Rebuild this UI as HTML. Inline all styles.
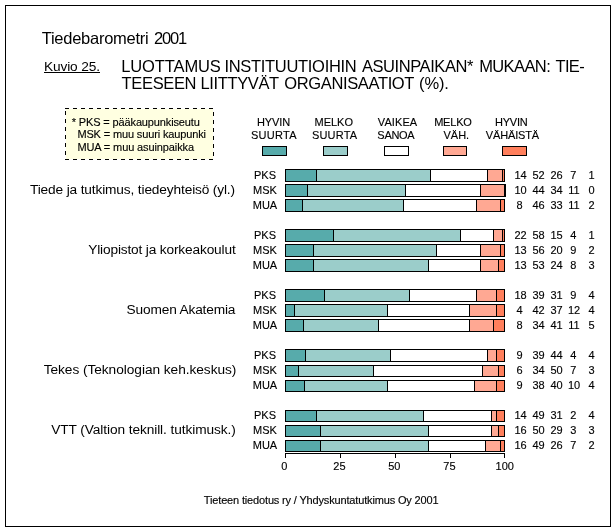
<!DOCTYPE html>
<html lang="fi">
<head>
<meta charset="utf-8">
<title>Tiedebarometri 2001 - Kuvio 25</title>
<style>
html,body{margin:0;padding:0;background:#fff;}
body{width:616px;height:531px;overflow:hidden;font-family:"Liberation Sans",sans-serif;}
svg{display:block;}
text{font-family:"Liberation Sans",sans-serif;white-space:pre;}
</style>
</head>
<body>
<svg width="616" height="531" viewBox="0 0 616 531" font-family="'Liberation Sans', sans-serif" fill="#000">
<rect x="0" y="0" width="616" height="531" fill="#fff"/>
<g shape-rendering="crispEdges">
<path d="M5 5h606v522h-606zM6 6v520h604v-520z" fill-rule="evenodd"/>
<rect x="44" y="72" width="56" height="1"/>
<rect x="66" y="109" width="147" height="50" fill="#ffffe1"/>
<path d="M65 108h1v1h-1zM66 108h1v1h-1zM67 108h1v1h-1zM68 108h1v1h-1zM73 108h1v1h-1zM74 108h1v1h-1zM75 108h1v1h-1zM76 108h1v1h-1zM81 108h1v1h-1zM82 108h1v1h-1zM83 108h1v1h-1zM84 108h1v1h-1zM89 108h1v1h-1zM90 108h1v1h-1zM91 108h1v1h-1zM92 108h1v1h-1zM97 108h1v1h-1zM98 108h1v1h-1zM99 108h1v1h-1zM100 108h1v1h-1zM105 108h1v1h-1zM106 108h1v1h-1zM107 108h1v1h-1zM108 108h1v1h-1zM113 108h1v1h-1zM114 108h1v1h-1zM115 108h1v1h-1zM116 108h1v1h-1zM121 108h1v1h-1zM122 108h1v1h-1zM123 108h1v1h-1zM124 108h1v1h-1zM129 108h1v1h-1zM130 108h1v1h-1zM131 108h1v1h-1zM132 108h1v1h-1zM137 108h1v1h-1zM138 108h1v1h-1zM139 108h1v1h-1zM140 108h1v1h-1zM145 108h1v1h-1zM146 108h1v1h-1zM147 108h1v1h-1zM148 108h1v1h-1zM153 108h1v1h-1zM154 108h1v1h-1zM155 108h1v1h-1zM156 108h1v1h-1zM161 108h1v1h-1zM162 108h1v1h-1zM163 108h1v1h-1zM164 108h1v1h-1zM169 108h1v1h-1zM170 108h1v1h-1zM171 108h1v1h-1zM172 108h1v1h-1zM177 108h1v1h-1zM178 108h1v1h-1zM179 108h1v1h-1zM180 108h1v1h-1zM185 108h1v1h-1zM186 108h1v1h-1zM187 108h1v1h-1zM188 108h1v1h-1zM193 108h1v1h-1zM194 108h1v1h-1zM195 108h1v1h-1zM196 108h1v1h-1zM201 108h1v1h-1zM202 108h1v1h-1zM203 108h1v1h-1zM204 108h1v1h-1zM209 108h1v1h-1zM210 108h1v1h-1zM211 108h1v1h-1zM212 108h1v1h-1zM213 112h1v1h-1zM213 113h1v1h-1zM213 114h1v1h-1zM213 115h1v1h-1zM213 120h1v1h-1zM213 121h1v1h-1zM213 122h1v1h-1zM213 123h1v1h-1zM213 128h1v1h-1zM213 129h1v1h-1zM213 130h1v1h-1zM213 131h1v1h-1zM213 136h1v1h-1zM213 137h1v1h-1zM213 138h1v1h-1zM213 139h1v1h-1zM213 144h1v1h-1zM213 145h1v1h-1zM213 146h1v1h-1zM213 147h1v1h-1zM213 152h1v1h-1zM213 153h1v1h-1zM213 154h1v1h-1zM213 155h1v1h-1zM212 159h1v1h-1zM211 159h1v1h-1zM210 159h1v1h-1zM209 159h1v1h-1zM204 159h1v1h-1zM203 159h1v1h-1zM202 159h1v1h-1zM201 159h1v1h-1zM196 159h1v1h-1zM195 159h1v1h-1zM194 159h1v1h-1zM193 159h1v1h-1zM188 159h1v1h-1zM187 159h1v1h-1zM186 159h1v1h-1zM185 159h1v1h-1zM180 159h1v1h-1zM179 159h1v1h-1zM178 159h1v1h-1zM177 159h1v1h-1zM172 159h1v1h-1zM171 159h1v1h-1zM170 159h1v1h-1zM169 159h1v1h-1zM164 159h1v1h-1zM163 159h1v1h-1zM162 159h1v1h-1zM161 159h1v1h-1zM156 159h1v1h-1zM155 159h1v1h-1zM154 159h1v1h-1zM153 159h1v1h-1zM148 159h1v1h-1zM147 159h1v1h-1zM146 159h1v1h-1zM145 159h1v1h-1zM140 159h1v1h-1zM139 159h1v1h-1zM138 159h1v1h-1zM137 159h1v1h-1zM132 159h1v1h-1zM131 159h1v1h-1zM130 159h1v1h-1zM129 159h1v1h-1zM124 159h1v1h-1zM123 159h1v1h-1zM122 159h1v1h-1zM121 159h1v1h-1zM116 159h1v1h-1zM115 159h1v1h-1zM114 159h1v1h-1zM113 159h1v1h-1zM108 159h1v1h-1zM107 159h1v1h-1zM106 159h1v1h-1zM105 159h1v1h-1zM100 159h1v1h-1zM99 159h1v1h-1zM98 159h1v1h-1zM97 159h1v1h-1zM92 159h1v1h-1zM91 159h1v1h-1zM90 159h1v1h-1zM89 159h1v1h-1zM84 159h1v1h-1zM83 159h1v1h-1zM82 159h1v1h-1zM81 159h1v1h-1zM76 159h1v1h-1zM75 159h1v1h-1zM74 159h1v1h-1zM73 159h1v1h-1zM68 159h1v1h-1zM67 159h1v1h-1zM66 159h1v1h-1zM65 159h1v1h-1zM65 154h1v1h-1zM65 153h1v1h-1zM65 152h1v1h-1zM65 151h1v1h-1zM65 146h1v1h-1zM65 145h1v1h-1zM65 144h1v1h-1zM65 143h1v1h-1zM65 138h1v1h-1zM65 137h1v1h-1zM65 136h1v1h-1zM65 135h1v1h-1zM65 130h1v1h-1zM65 129h1v1h-1zM65 128h1v1h-1zM65 127h1v1h-1zM65 122h1v1h-1zM65 121h1v1h-1zM65 120h1v1h-1zM65 119h1v1h-1zM65 114h1v1h-1zM65 113h1v1h-1zM65 112h1v1h-1zM65 111h1v1h-1z"/>
<rect x="262" y="146" width="25" height="10"/><rect x="263" y="147" width="23" height="8" fill="#57abab"/>
<rect x="323" y="146" width="25" height="10"/><rect x="324" y="147" width="23" height="8" fill="#9bcdca"/>
<rect x="384" y="146" width="25" height="10"/><rect x="385" y="147" width="23" height="8" fill="#ffffff"/>
<rect x="443" y="146" width="24" height="10"/><rect x="444" y="147" width="22" height="8" fill="#ffa893"/>
<rect x="502" y="146" width="25" height="10"/><rect x="503" y="147" width="23" height="8" fill="#ff7f5c"/>
<rect x="285" y="169" width="220" height="13"/>
<rect x="286" y="170" width="30" height="11" fill="#57abab"/>
<rect x="317" y="170" width="113" height="11" fill="#9bcdca"/>
<rect x="431" y="170" width="56" height="11" fill="#ffffff"/>
<rect x="488" y="170" width="14" height="11" fill="#ffa893"/>
<rect x="503" y="170" width="1" height="11" fill="#ff7f5c"/>
<rect x="285" y="184" width="221" height="13"/>
<rect x="286" y="185" width="21" height="11" fill="#57abab"/>
<rect x="308" y="185" width="97" height="11" fill="#9bcdca"/>
<rect x="406" y="185" width="74" height="11" fill="#ffffff"/>
<rect x="481" y="185" width="23" height="11" fill="#ffa893"/>
<rect x="285" y="199" width="220" height="13"/>
<rect x="286" y="200" width="16" height="11" fill="#57abab"/>
<rect x="303" y="200" width="100" height="11" fill="#9bcdca"/>
<rect x="404" y="200" width="72" height="11" fill="#ffffff"/>
<rect x="477" y="200" width="23" height="11" fill="#ffa893"/>
<rect x="501" y="200" width="3" height="11" fill="#ff7f5c"/>
<rect x="285" y="229" width="220" height="13"/>
<rect x="286" y="230" width="47" height="11" fill="#57abab"/>
<rect x="334" y="230" width="126" height="11" fill="#9bcdca"/>
<rect x="461" y="230" width="32" height="11" fill="#ffffff"/>
<rect x="494" y="230" width="8" height="11" fill="#ffa893"/>
<rect x="503" y="230" width="1" height="11" fill="#ff7f5c"/>
<rect x="285" y="244" width="220" height="13"/>
<rect x="286" y="245" width="27" height="11" fill="#57abab"/>
<rect x="314" y="245" width="122" height="11" fill="#9bcdca"/>
<rect x="437" y="245" width="43" height="11" fill="#ffffff"/>
<rect x="481" y="245" width="19" height="11" fill="#ffa893"/>
<rect x="501" y="245" width="3" height="11" fill="#ff7f5c"/>
<rect x="285" y="259" width="220" height="13"/>
<rect x="286" y="260" width="27" height="11" fill="#57abab"/>
<rect x="314" y="260" width="114" height="11" fill="#9bcdca"/>
<rect x="429" y="260" width="51" height="11" fill="#ffffff"/>
<rect x="481" y="260" width="17" height="11" fill="#ffa893"/>
<rect x="499" y="260" width="5" height="11" fill="#ff7f5c"/>
<rect x="285" y="289" width="220" height="13"/>
<rect x="286" y="290" width="38" height="11" fill="#57abab"/>
<rect x="325" y="290" width="84" height="11" fill="#9bcdca"/>
<rect x="410" y="290" width="66" height="11" fill="#ffffff"/>
<rect x="477" y="290" width="19" height="11" fill="#ffa893"/>
<rect x="497" y="290" width="7" height="11" fill="#ff7f5c"/>
<rect x="285" y="304" width="220" height="13"/>
<rect x="286" y="305" width="8" height="11" fill="#57abab"/>
<rect x="295" y="305" width="92" height="11" fill="#9bcdca"/>
<rect x="388" y="305" width="81" height="11" fill="#ffffff"/>
<rect x="470" y="305" width="26" height="11" fill="#ffa893"/>
<rect x="497" y="305" width="7" height="11" fill="#ff7f5c"/>
<rect x="285" y="319" width="220" height="13"/>
<rect x="286" y="320" width="17" height="11" fill="#57abab"/>
<rect x="304" y="320" width="74" height="11" fill="#9bcdca"/>
<rect x="379" y="320" width="90" height="11" fill="#ffffff"/>
<rect x="470" y="320" width="23" height="11" fill="#ffa893"/>
<rect x="494" y="320" width="10" height="11" fill="#ff7f5c"/>
<rect x="285" y="349" width="220" height="13"/>
<rect x="286" y="350" width="19" height="11" fill="#57abab"/>
<rect x="306" y="350" width="84" height="11" fill="#9bcdca"/>
<rect x="391" y="350" width="96" height="11" fill="#ffffff"/>
<rect x="488" y="350" width="8" height="11" fill="#ffa893"/>
<rect x="497" y="350" width="7" height="11" fill="#ff7f5c"/>
<rect x="285" y="365" width="220" height="12"/>
<rect x="286" y="366" width="12" height="10" fill="#57abab"/>
<rect x="299" y="366" width="74" height="10" fill="#9bcdca"/>
<rect x="374" y="366" width="108" height="10" fill="#ffffff"/>
<rect x="483" y="366" width="15" height="10" fill="#ffa893"/>
<rect x="499" y="366" width="5" height="10" fill="#ff7f5c"/>
<rect x="285" y="380" width="220" height="12"/>
<rect x="286" y="381" width="18" height="10" fill="#57abab"/>
<rect x="305" y="381" width="82" height="10" fill="#9bcdca"/>
<rect x="388" y="381" width="86" height="10" fill="#ffffff"/>
<rect x="475" y="381" width="21" height="10" fill="#ffa893"/>
<rect x="497" y="381" width="7" height="10" fill="#ff7f5c"/>
<rect x="285" y="410" width="220" height="12"/>
<rect x="286" y="411" width="30" height="10" fill="#57abab"/>
<rect x="317" y="411" width="106" height="10" fill="#9bcdca"/>
<rect x="424" y="411" width="67" height="10" fill="#ffffff"/>
<rect x="492" y="411" width="4" height="10" fill="#ffa893"/>
<rect x="497" y="411" width="7" height="10" fill="#ff7f5c"/>
<rect x="285" y="425" width="220" height="12"/>
<rect x="286" y="426" width="34" height="10" fill="#57abab"/>
<rect x="321" y="426" width="107" height="10" fill="#9bcdca"/>
<rect x="429" y="426" width="62" height="10" fill="#ffffff"/>
<rect x="492" y="426" width="6" height="10" fill="#ffa893"/>
<rect x="499" y="426" width="5" height="10" fill="#ff7f5c"/>
<rect x="285" y="440" width="220" height="12"/>
<rect x="286" y="441" width="34" height="10" fill="#57abab"/>
<rect x="321" y="441" width="107" height="10" fill="#9bcdca"/>
<rect x="429" y="441" width="56" height="10" fill="#ffffff"/>
<rect x="486" y="441" width="14" height="10" fill="#ffa893"/>
<rect x="501" y="441" width="3" height="10" fill="#ff7f5c"/>
<rect x="285" y="453" width="220" height="1"/>
<rect x="285" y="454" width="1" height="4"/>
<rect x="340" y="454" width="1" height="4"/>
<rect x="395" y="454" width="1" height="4"/>
<rect x="450" y="454" width="1" height="4"/>
<rect x="504" y="454" width="1" height="4"/>
</g>
<g id="txt" style="will-change:transform">
<text x="41.68" y="44" font-size="16.5" textLength="107.04" lengthAdjust="spacing">Tiedebarometri</text>
<text x="153.93" y="44" font-size="16.5" textLength="33.22" lengthAdjust="spacing">2001</text>
<text x="44.00" y="70.5" font-size="13.7" textLength="56.08" lengthAdjust="spacing">Kuvio 25.</text>
<text x="121.25" y="72" font-size="16.5" textLength="99.61" lengthAdjust="spacing">LUOTTAMUS</text>
<text x="224.47" y="72" font-size="16.5" textLength="132.25" lengthAdjust="spacing">INSTITUUTIOIHIN</text>
<text x="361.91" y="72" font-size="16.5" textLength="111.52" lengthAdjust="spacing">ASUINPAIKAN*</text>
<text x="479.13" y="72" font-size="16.5" textLength="71.61" lengthAdjust="spacing">MUKAAN:</text>
<text x="555.61" y="72" font-size="16.5" textLength="29.03" lengthAdjust="spacing">TIE-</text>
<text x="121.61" y="89" font-size="16.5" textLength="74.93" lengthAdjust="spacing">TEESEEN</text>
<text x="200.50" y="89" font-size="16.5" textLength="78.68" lengthAdjust="spacing">LIITTYVÄT</text>
<text x="284.19" y="89" font-size="16.5" textLength="130.26" lengthAdjust="spacing">ORGANISAATIOT</text>
<text x="419.04" y="89" font-size="16.5" textLength="29.87" lengthAdjust="spacing">(%).</text>
<text stroke="#000" stroke-width="0.14" x="71.77" y="125.8" font-size="11" textLength="128.08" lengthAdjust="spacing">* PKS = pääkaupunkiseutu</text>
<text stroke="#000" stroke-width="0.14" x="77.39" y="138" font-size="11" textLength="128.56" lengthAdjust="spacing">MSK = muu suuri kaupunki</text>
<text stroke="#000" stroke-width="0.14" x="77.39" y="151" font-size="11" textLength="116.69" lengthAdjust="spacing">MUA = muu asuinpaikka</text>
<text stroke="#000" stroke-width="0.14" x="256.99" y="126" font-size="11" textLength="33.25" lengthAdjust="spacing">HYVIN</text>
<text stroke="#000" stroke-width="0.14" x="250.88" y="139" font-size="11" textLength="45.65" lengthAdjust="spacing">SUURTA</text>
<text stroke="#000" stroke-width="0.14" x="314.60" y="126" font-size="11" textLength="38.37" lengthAdjust="spacing">MELKO</text>
<text stroke="#000" stroke-width="0.14" x="311.88" y="139" font-size="11" textLength="45.25" lengthAdjust="spacing">SUURTA</text>
<text stroke="#000" stroke-width="0.14" x="377.85" y="126" font-size="11" textLength="39.29" lengthAdjust="spacing">VAIKEA</text>
<text stroke="#000" stroke-width="0.14" x="377.36" y="139" font-size="11" textLength="37.32" lengthAdjust="spacing">SANOA</text>
<text stroke="#000" stroke-width="0.14" x="434.13" y="126" font-size="11" textLength="37.73" lengthAdjust="spacing">MELKO</text>
<text stroke="#000" stroke-width="0.14" x="443.51" y="139" font-size="11" textLength="25.67" lengthAdjust="spacing">VÄH.</text>
<text stroke="#000" stroke-width="0.14" x="494.98" y="126" font-size="11" textLength="32.83" lengthAdjust="spacing">HYVIN</text>
<text stroke="#000" stroke-width="0.14" x="485.85" y="139" font-size="11" textLength="53.24" lengthAdjust="spacing">VÄHÄISTÄ</text>
<text stroke="#000" stroke-width="0.14" x="265" y="179" font-size="11" text-anchor="middle">PKS</text>
<text stroke="#000" stroke-width="0.14" x="520.5" y="179" font-size="11" text-anchor="middle">14</text>
<text stroke="#000" stroke-width="0.14" x="538.5" y="179" font-size="11" text-anchor="middle">52</text>
<text stroke="#000" stroke-width="0.14" x="556.5" y="179" font-size="11" text-anchor="middle">26</text>
<text stroke="#000" stroke-width="0.14" x="573.3" y="179" font-size="11" text-anchor="middle">7</text>
<text stroke="#000" stroke-width="0.14" x="591.5" y="179" font-size="11" text-anchor="middle">1</text>
<text stroke="#000" stroke-width="0.14" x="265" y="194" font-size="11" text-anchor="middle">MSK</text>
<text stroke="#000" stroke-width="0.14" x="520.5" y="194" font-size="11" text-anchor="middle">10</text>
<text stroke="#000" stroke-width="0.14" x="538.5" y="194" font-size="11" text-anchor="middle">44</text>
<text stroke="#000" stroke-width="0.14" x="556.5" y="194" font-size="11" text-anchor="middle">34</text>
<text stroke="#000" stroke-width="0.14" x="574" y="194" font-size="11" text-anchor="middle">11</text>
<text stroke="#000" stroke-width="0.14" x="591.5" y="194" font-size="11" text-anchor="middle">0</text>
<text stroke="#000" stroke-width="0.14" x="265" y="209" font-size="11" text-anchor="middle">MUA</text>
<text stroke="#000" stroke-width="0.14" x="519.5" y="209" font-size="11" text-anchor="middle">8</text>
<text stroke="#000" stroke-width="0.14" x="538.5" y="209" font-size="11" text-anchor="middle">46</text>
<text stroke="#000" stroke-width="0.14" x="556.5" y="209" font-size="11" text-anchor="middle">33</text>
<text stroke="#000" stroke-width="0.14" x="574" y="209" font-size="11" text-anchor="middle">11</text>
<text stroke="#000" stroke-width="0.14" x="591.5" y="209" font-size="11" text-anchor="middle">2</text>
<text stroke="#000" stroke-width="0.14" x="265" y="239" font-size="11" text-anchor="middle">PKS</text>
<text stroke="#000" stroke-width="0.14" x="520.5" y="239" font-size="11" text-anchor="middle">22</text>
<text stroke="#000" stroke-width="0.14" x="538.5" y="239" font-size="11" text-anchor="middle">58</text>
<text stroke="#000" stroke-width="0.14" x="556.5" y="239" font-size="11" text-anchor="middle">15</text>
<text stroke="#000" stroke-width="0.14" x="573.3" y="239" font-size="11" text-anchor="middle">4</text>
<text stroke="#000" stroke-width="0.14" x="591.5" y="239" font-size="11" text-anchor="middle">1</text>
<text stroke="#000" stroke-width="0.14" x="265" y="254" font-size="11" text-anchor="middle">MSK</text>
<text stroke="#000" stroke-width="0.14" x="520.5" y="254" font-size="11" text-anchor="middle">13</text>
<text stroke="#000" stroke-width="0.14" x="538.5" y="254" font-size="11" text-anchor="middle">56</text>
<text stroke="#000" stroke-width="0.14" x="556.5" y="254" font-size="11" text-anchor="middle">20</text>
<text stroke="#000" stroke-width="0.14" x="573.3" y="254" font-size="11" text-anchor="middle">9</text>
<text stroke="#000" stroke-width="0.14" x="591.5" y="254" font-size="11" text-anchor="middle">2</text>
<text stroke="#000" stroke-width="0.14" x="265" y="269" font-size="11" text-anchor="middle">MUA</text>
<text stroke="#000" stroke-width="0.14" x="520.5" y="269" font-size="11" text-anchor="middle">13</text>
<text stroke="#000" stroke-width="0.14" x="538.5" y="269" font-size="11" text-anchor="middle">53</text>
<text stroke="#000" stroke-width="0.14" x="556.5" y="269" font-size="11" text-anchor="middle">24</text>
<text stroke="#000" stroke-width="0.14" x="573.3" y="269" font-size="11" text-anchor="middle">8</text>
<text stroke="#000" stroke-width="0.14" x="591.5" y="269" font-size="11" text-anchor="middle">3</text>
<text stroke="#000" stroke-width="0.14" x="265" y="299" font-size="11" text-anchor="middle">PKS</text>
<text stroke="#000" stroke-width="0.14" x="520.5" y="299" font-size="11" text-anchor="middle">18</text>
<text stroke="#000" stroke-width="0.14" x="538.5" y="299" font-size="11" text-anchor="middle">39</text>
<text stroke="#000" stroke-width="0.14" x="556.5" y="299" font-size="11" text-anchor="middle">31</text>
<text stroke="#000" stroke-width="0.14" x="573.3" y="299" font-size="11" text-anchor="middle">9</text>
<text stroke="#000" stroke-width="0.14" x="591.5" y="299" font-size="11" text-anchor="middle">4</text>
<text stroke="#000" stroke-width="0.14" x="265" y="314" font-size="11" text-anchor="middle">MSK</text>
<text stroke="#000" stroke-width="0.14" x="519.5" y="314" font-size="11" text-anchor="middle">4</text>
<text stroke="#000" stroke-width="0.14" x="538.5" y="314" font-size="11" text-anchor="middle">42</text>
<text stroke="#000" stroke-width="0.14" x="556.5" y="314" font-size="11" text-anchor="middle">37</text>
<text stroke="#000" stroke-width="0.14" x="574" y="314" font-size="11" text-anchor="middle">12</text>
<text stroke="#000" stroke-width="0.14" x="591.5" y="314" font-size="11" text-anchor="middle">4</text>
<text stroke="#000" stroke-width="0.14" x="265" y="329" font-size="11" text-anchor="middle">MUA</text>
<text stroke="#000" stroke-width="0.14" x="519.5" y="329" font-size="11" text-anchor="middle">8</text>
<text stroke="#000" stroke-width="0.14" x="538.5" y="329" font-size="11" text-anchor="middle">34</text>
<text stroke="#000" stroke-width="0.14" x="556.5" y="329" font-size="11" text-anchor="middle">41</text>
<text stroke="#000" stroke-width="0.14" x="574" y="329" font-size="11" text-anchor="middle">11</text>
<text stroke="#000" stroke-width="0.14" x="591.5" y="329" font-size="11" text-anchor="middle">5</text>
<text stroke="#000" stroke-width="0.14" x="265" y="359" font-size="11" text-anchor="middle">PKS</text>
<text stroke="#000" stroke-width="0.14" x="519.5" y="359" font-size="11" text-anchor="middle">9</text>
<text stroke="#000" stroke-width="0.14" x="538.5" y="359" font-size="11" text-anchor="middle">39</text>
<text stroke="#000" stroke-width="0.14" x="556.5" y="359" font-size="11" text-anchor="middle">44</text>
<text stroke="#000" stroke-width="0.14" x="573.3" y="359" font-size="11" text-anchor="middle">4</text>
<text stroke="#000" stroke-width="0.14" x="591.5" y="359" font-size="11" text-anchor="middle">4</text>
<text stroke="#000" stroke-width="0.14" x="265" y="374" font-size="11" text-anchor="middle">MSK</text>
<text stroke="#000" stroke-width="0.14" x="519.5" y="374" font-size="11" text-anchor="middle">6</text>
<text stroke="#000" stroke-width="0.14" x="538.5" y="374" font-size="11" text-anchor="middle">34</text>
<text stroke="#000" stroke-width="0.14" x="556.5" y="374" font-size="11" text-anchor="middle">50</text>
<text stroke="#000" stroke-width="0.14" x="573.3" y="374" font-size="11" text-anchor="middle">7</text>
<text stroke="#000" stroke-width="0.14" x="591.5" y="374" font-size="11" text-anchor="middle">3</text>
<text stroke="#000" stroke-width="0.14" x="265" y="389" font-size="11" text-anchor="middle">MUA</text>
<text stroke="#000" stroke-width="0.14" x="519.5" y="389" font-size="11" text-anchor="middle">9</text>
<text stroke="#000" stroke-width="0.14" x="538.5" y="389" font-size="11" text-anchor="middle">38</text>
<text stroke="#000" stroke-width="0.14" x="556.5" y="389" font-size="11" text-anchor="middle">40</text>
<text stroke="#000" stroke-width="0.14" x="574" y="389" font-size="11" text-anchor="middle">10</text>
<text stroke="#000" stroke-width="0.14" x="591.5" y="389" font-size="11" text-anchor="middle">4</text>
<text stroke="#000" stroke-width="0.14" x="265" y="419" font-size="11" text-anchor="middle">PKS</text>
<text stroke="#000" stroke-width="0.14" x="520.5" y="419" font-size="11" text-anchor="middle">14</text>
<text stroke="#000" stroke-width="0.14" x="538.5" y="419" font-size="11" text-anchor="middle">49</text>
<text stroke="#000" stroke-width="0.14" x="556.5" y="419" font-size="11" text-anchor="middle">31</text>
<text stroke="#000" stroke-width="0.14" x="573.3" y="419" font-size="11" text-anchor="middle">2</text>
<text stroke="#000" stroke-width="0.14" x="591.5" y="419" font-size="11" text-anchor="middle">4</text>
<text stroke="#000" stroke-width="0.14" x="265" y="434" font-size="11" text-anchor="middle">MSK</text>
<text stroke="#000" stroke-width="0.14" x="520.5" y="434" font-size="11" text-anchor="middle">16</text>
<text stroke="#000" stroke-width="0.14" x="538.5" y="434" font-size="11" text-anchor="middle">50</text>
<text stroke="#000" stroke-width="0.14" x="556.5" y="434" font-size="11" text-anchor="middle">29</text>
<text stroke="#000" stroke-width="0.14" x="573.3" y="434" font-size="11" text-anchor="middle">3</text>
<text stroke="#000" stroke-width="0.14" x="591.5" y="434" font-size="11" text-anchor="middle">3</text>
<text stroke="#000" stroke-width="0.14" x="265" y="449" font-size="11" text-anchor="middle">MUA</text>
<text stroke="#000" stroke-width="0.14" x="520.5" y="449" font-size="11" text-anchor="middle">16</text>
<text stroke="#000" stroke-width="0.14" x="538.5" y="449" font-size="11" text-anchor="middle">49</text>
<text stroke="#000" stroke-width="0.14" x="556.5" y="449" font-size="11" text-anchor="middle">26</text>
<text stroke="#000" stroke-width="0.14" x="573.3" y="449" font-size="11" text-anchor="middle">7</text>
<text stroke="#000" stroke-width="0.14" x="591.5" y="449" font-size="11" text-anchor="middle">2</text>
<text x="29.95" y="194" font-size="13.7" textLength="205.15" lengthAdjust="spacing">Tiede ja tutkimus, tiedeyhteisö (yl.)</text>
<text x="88.23" y="254" font-size="13.7" textLength="147.47" lengthAdjust="spacing">Yliopistot ja korkeakoulut</text>
<text x="126.56" y="314" font-size="13.7" textLength="108.91" lengthAdjust="spacing">Suomen Akatemia</text>
<text x="43.70" y="374" font-size="13.7" textLength="192.64" lengthAdjust="spacing">Tekes (Teknologian keh.keskus)</text>
<text x="51.18" y="434" font-size="13.7" textLength="184.62" lengthAdjust="spacing">VTT (Valtion teknill. tutkimusk.)</text>
<text stroke="#000" stroke-width="0.14" x="284.3" y="469.6" font-size="11" text-anchor="middle">0</text>
<text stroke="#000" stroke-width="0.14" x="339.4" y="469.6" font-size="11" text-anchor="middle">25</text>
<text stroke="#000" stroke-width="0.14" x="394.3" y="469.6" font-size="11" text-anchor="middle">50</text>
<text stroke="#000" stroke-width="0.14" x="449.4" y="469.6" font-size="11" text-anchor="middle">75</text>
<text stroke="#000" stroke-width="0.14" x="504.7" y="469.6" font-size="11" text-anchor="middle">100</text>
<text stroke="#000" stroke-width="0.14" x="203.86" y="504" font-size="11" textLength="234.68" lengthAdjust="spacing">Tieteen tiedotus ry / Yhdyskuntatutkimus Oy 2001</text>
</g>
</svg>
</body>
</html>
